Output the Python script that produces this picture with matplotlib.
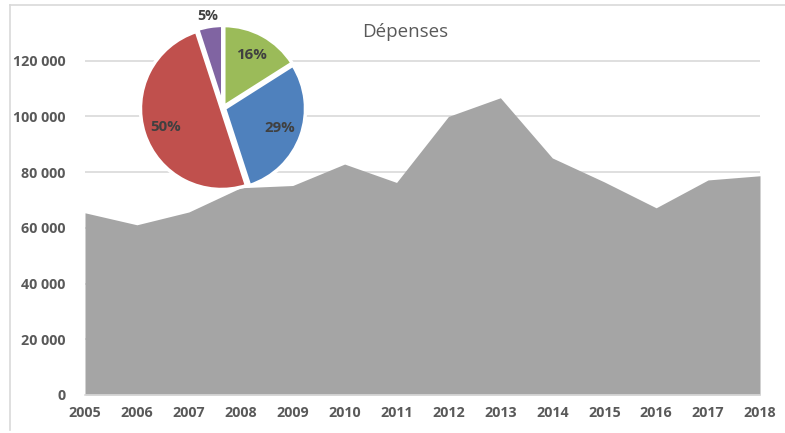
import matplotlib.pyplot as plt
from matplotlib.lines import Line2D
import numpy as np

years = ['2005', '2006', '2007', '2008', '2009', '2010', '2011',
         '2012', '2013', '2014', '2015', '2016', '2017', '2018']
depenses = [65400, 61100, 65700, 74400, 75200, 82900, 76300,
            100000, 106700, 85100, 76500, 67200, 77200, 78700]

parts = [16, 29, 50, 5]
part_colors = ['#9BBB59', '#4F81BD', '#C0504D', '#8064A2']

y_ticks = [0, 20000, 40000, 60000, 80000, 100000, 120000]

grid_c = '#D9D9D9'
txt_c = '#595959'
font = 'Open Sans'

W, H = 785, 433
fig = plt.figure(figsize=(W / 100, H / 100), dpi=100)

# area chart
ax = fig.add_axes([85 / W, 1 - 395 / H, 675 / W, 390 / H])
x = np.arange(len(years))
ax.fill_between(x, depenses, color='#A5A5A5', linewidth=0, zorder=2)
ax.set_xlim(0, len(years) - 1)
ax.set_ylim(0, 140000)
ax.set_yticks(y_ticks)
ax.set_yticklabels(['{:,}'.format(v).replace(',', ' ') for v in y_ticks])
ax.set_xticks(x)
ax.set_xticklabels(years)
for lab in ax.get_xticklabels() + ax.get_yticklabels():
    lab.set_fontfamily(font)
    lab.set_fontweight('bold')
    lab.set_fontsize(10.3)
    lab.set_color(txt_c)
ax.tick_params(length=0)
ax.tick_params(axis='y', pad=14)
ax.tick_params(axis='x', pad=8)
for s in ['top', 'right', 'left']:
    ax.spines[s].set_visible(False)
ax.spines['bottom'].set_color(grid_c)
ax.spines['bottom'].set_linewidth(1.2)
ax.spines['bottom'].set_zorder(3)
ax.yaxis.grid(True, color=grid_c, linewidth=1.2, zorder=0)
ax.set_axisbelow(True)

# pie inset
cx, cy, r = 223, 108, 81
half = r * 1.2
pax = fig.add_axes([(cx - half) / W, 1 - (cy + half) / H, 2 * half / W, 2 * half / H])
wedges, texts, autotexts = pax.pie(parts, colors=part_colors, startangle=90,
                                   counterclock=False, radius=1,
                                   explode=[0.02, 0.02, 0.02, 0.02],
                                   autopct='%d%%', pctdistance=0.72,
                                   wedgeprops=dict(edgecolor='white', linewidth=2.5),
                                   textprops=dict(fontfamily=font, fontweight='bold',
                                                  fontsize=10.8, color='#404040'))
ang = np.deg2rad(99)
autotexts[3].set_position((1.17 * np.cos(ang), 1.15 * np.sin(ang)))
autotexts[3].set_fontsize(10.3)
pax.set_xlim(-1.2, 1.2)
pax.set_ylim(-1.2, 1.2)
pax.set_aspect('equal')
pax.axis('off')

fig.text(405 / W, 1 - 32 / H, 'Dépenses', ha='center', va='center',
         fontfamily=font, fontsize=13.5, color=txt_c)

# chart frame
fig.add_artist(Line2D([10 / W, 10 / W], [1 - 430 / H, 1 - 5 / H], color=grid_c, linewidth=1.2))
fig.add_artist(Line2D([10 / W, 1], [1 - 5 / H, 1 - 5 / H], color=grid_c, linewidth=1.2))

fig.savefig('out.png', dpi=100, facecolor='white')
